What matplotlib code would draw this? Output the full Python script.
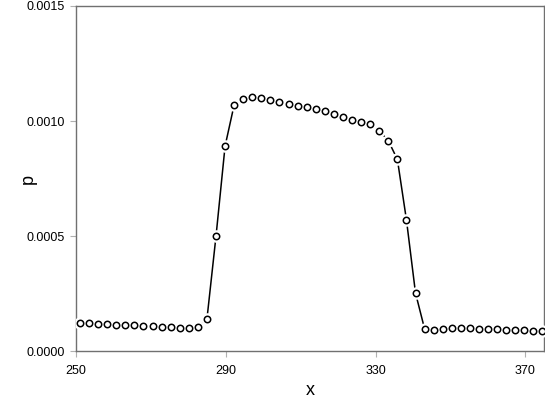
import matplotlib
matplotlib.use("Agg")
import matplotlib.pyplot as plt
from matplotlib.ticker import FormatStrFormatter

plt.rcParams['font.family'] = ['Liberation Sans', 'DejaVu Sans']

# positions of the sample points
x_vals = [251.07, 253.49, 255.91, 258.34, 260.76, 263.18, 265.60, 268.02, 270.45, 272.87,
          275.29, 277.71, 280.13, 282.56, 284.98, 287.40, 289.82, 292.24, 294.67, 297.09,
          299.51, 301.93, 304.35, 306.78, 309.20, 311.62, 314.04, 316.46, 318.89, 321.31,
          323.73, 326.15, 328.57, 331.00, 333.42, 335.84, 338.26, 340.68, 343.11, 345.53,
          347.95, 350.37, 352.79, 355.22, 357.64, 360.06, 362.48, 364.90, 367.33, 369.75,
          372.17, 374.59]

p_vals = [0.000122, 0.000120, 0.000118, 0.000116, 0.000115, 0.000113, 0.000111, 0.000110,
          0.000108, 0.000106, 0.000104, 0.000101, 0.000100, 0.000104, 0.000140, 0.000500,
          0.000891, 0.001070, 0.001094, 0.001106, 0.001101, 0.001091, 0.001081, 0.001074,
          0.001067, 0.001061, 0.001052, 0.001042, 0.001030, 0.001017, 0.001006, 0.000996,
          0.000987, 0.000958, 0.000914, 0.000833, 0.000570, 0.000252, 0.000096, 0.000091,
          0.000096, 0.000099, 0.000100, 0.000099, 0.000097, 0.000096, 0.000094, 0.000093,
          0.000091, 0.000090, 0.000088, 0.000087]

x_ticks = [250, 290, 330, 370]
y_ticks = [0.0, 0.0005, 0.0010, 0.0015]

fig = plt.figure(figsize=(5.45, 4.19), dpi=100)
ax = fig.add_axes([76 / 545, 68 / 419, 468 / 545, 345 / 419])

# line, then white halo so the line stops short of each circle (R type="b" look)
ax.plot(x_vals, p_vals, color='black', lw=1.1, zorder=2)
ax.plot(x_vals, p_vals, ls='none', marker='o', ms=8, mfc='white', mec='white', zorder=3)
ax.plot(x_vals, p_vals, ls='none', marker='o', ms=4.6, mfc='white', mec='black',
        mew=1.1, zorder=4)

ax.set_xlim(250, 375)
ax.set_ylim(0, 0.0015)
ax.set_xticks(x_ticks)
ax.set_yticks(y_ticks)
ax.yaxis.set_major_formatter(FormatStrFormatter('%.4f'))

for s in ax.spines.values():
    s.set_color('#707070')
    s.set_linewidth(1.0)
ax.tick_params(axis='both', length=4, width=0.8, color='#b0b0b0', labelsize=9)
ax.tick_params(axis='x', pad=6)
ax.tick_params(axis='y', pad=4)

ax.set_xlabel('x', fontsize=13, labelpad=3.5)
ax.set_ylabel('p', fontsize=13)
ax.yaxis.set_label_coords(-0.083, 0.5)

fig.savefig('out.png', dpi=100)
